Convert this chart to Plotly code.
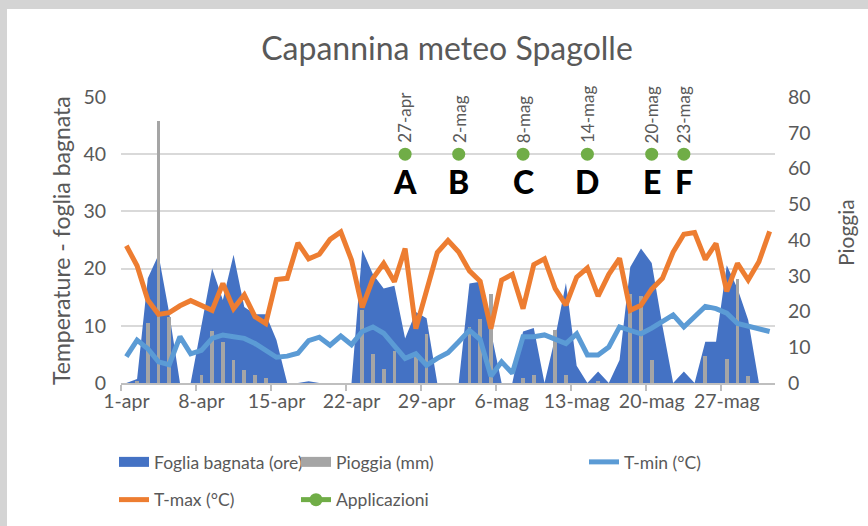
import plotly.graph_objects as go

# ---------------- data ----------------
giorni = [f"{d}-apr" for d in range(1, 31)] + [f"{d}-mag" for d in range(1, 32)]

foglia = [0, 0.7, 18.3, 22.4, 12.2, 0, 0, 10, 20, 14.5,
          22.4, 13.3, 12, 12, 7.5, 0, 0, 0.3, 0, 0,
          0, 0, 23.3, 19, 16.5, 17, 7.8, 12.4, 11.3, 0,
          0, 0, 17.4, 17.7, 9, 0, 0, 9, 9.6, 0,
          8, 17.5, 3, 0, 2, 0, 4, 20.3, 23.5, 21,
          10, 0, 2, 0, 7.2, 7.2, 20.6, 16.5, 11, 0,
          0]

pioggia = [0, 0.5, 16.8, 73.4, 18.5, 0, 0, 2.2, 14.6, 11.5,
           6.4, 3.6, 2.2, 1.5, 0, 0, 0, 0, 0, 0,
           0, 0, 20.5, 8, 4, 9, 0, 7.3, 13.8, 0,
           0, 0, 15.7, 18, 25, 0, 0, 1.3, 2.2, 0,
           14.7, 2.2, 0, 0, 0.3, 0, 0, 25, 24.3, 6.4,
           0, 0, 0, 0, 7.5, 0, 6.6, 29, 1.9, 0,
           0]

tmin = [4.6, 7.5, 6, 3.7, 3.2, 8.1, 5.1, 5.7, 7.8, 8.4,
        8.1, 7.8, 6.9, 5.6, 4.5, 4.7, 5.2, 7.4, 8, 6.6,
        8.2, 6.7, 9, 9.8, 8.7, 6.5, 4.3, 5.1, 3.1, 4.3,
        5.3, 7.2, 9.2, 7.6, 1.2, 3.7, 1.7, 8.1, 8.1, 8.4,
        7.6, 6.9, 8.6, 4.9, 4.9, 6.3, 9.8, 9.2, 8.6, 9.6,
        10.8, 11.9, 9.8, 11.6, 13.4, 13, 12.2, 10.4, 10, 9.6,
        9]

tmax = [24, 20.5, 14.5, 12, 12.3, 13.5, 14.4, 13.5, 12.7, 17.4,
        13, 15.4, 11.6, 10.4, 18.1, 18.3, 24.5, 21.7, 22.5, 25.1,
        26.4, 21.5, 13.2, 18.3, 20.9, 17.7, 23.5, 9.5, 16, 22.8,
        24.9, 22.9, 19.6, 17.8, 9.5, 18, 19, 13, 20.7, 21.7,
        16.5, 13.6, 18.5, 20.1, 15.2, 19, 21.8, 12.7, 13.6, 16.4,
        18.3, 22.9, 26, 26.3, 21.6, 24.4, 16, 20.9, 18, 21.2,
        26.5]

app_date = ["27-apr", "2-mag", "8-mag", "14-mag", "20-mag", "23-mag"]
app_lettere = ["A", "B", "C", "D", "E", "F"]
app_valore = 40

tick_labels = ["1-apr", "8-apr", "15-apr", "22-apr", "29-apr",
               "6-mag", "13-mag", "20-mag", "27-mag"]

# ---------------- derived ----------------
x = list(range(len(giorni)))
tick_x = [giorni.index(t) for t in tick_labels]
app_y = [app_valore if g in app_date else None for g in giorni]

FONT = "Lato"
GRAY_TXT = "#595959"
C_FOGLIA, C_PIOGGIA = "#4472C4", "#A5A5A5"

# plot area in pixels
W, H = 868, 526
ML, MR, MT, MB = 121, 93, 97, 143
PW, PH = W - ML - MR, H - MT - MB


def px_x(p):
    return (p - ML) / PW


def px_y(p):
    return (H - MB - p) / PH


fig = go.Figure()

fig.add_trace(go.Scatter(
    x=x, y=foglia, name="Foglia bagnata (ore)", mode="lines",
    line=dict(width=0, color=C_FOGLIA), fill="tozeroy", fillcolor=C_FOGLIA,
    yaxis="y", showlegend=False))

fig.add_trace(go.Bar(
    x=x, y=pioggia, name="Pioggia (mm)", marker=dict(color=C_PIOGGIA, line=dict(width=0)),
    width=0.35, yaxis="y2", showlegend=False))

# legend-only swatches (wide rectangles like the original legend)
fig.add_trace(go.Scatter(
    x=[None], y=[None], name="Foglia bagnata (ore)", mode="lines",
    line=dict(width=12, color=C_FOGLIA), yaxis="y",
    legend="legend", legendgroup="g1"))
fig.add_trace(go.Scatter(
    x=[None], y=[None], name="Pioggia (mm)", mode="lines",
    line=dict(width=12, color=C_PIOGGIA), yaxis="y2",
    legend="legend2", legendgroup="g2"))

fig.add_trace(go.Scatter(
    x=x, y=tmin, name="T-min (°C)", mode="lines",
    line=dict(width=5, color="#5B9BD5"), yaxis="y3",
    legend="legend3", legendgroup="g3"))

fig.add_trace(go.Scatter(
    x=x, y=tmax, name="T-max (°C)", mode="lines",
    line=dict(width=5, color="#ED7D31"), yaxis="y3",
    legend="legend", legendgroup="g4"))

fig.add_trace(go.Scatter(
    x=x, y=app_y, name="Applicazioni", mode="lines+markers",
    line=dict(width=5, color="#70AD47"), marker=dict(size=13, color="#70AD47"),
    connectgaps=False, yaxis="y3", legend="legend2", legendgroup="g5"))

# rotated date labels above and letters below application points
for d, lettera in zip(app_date, app_lettere):
    fig.add_annotation(
        x=giorni.index(d), y=app_valore, xref="x", yref="y3",
        text=d, textangle=-90, showarrow=False, yanchor="bottom", xanchor="center",
        yshift=9, font=dict(family=FONT, size=17, color=GRAY_TXT))
    fig.add_annotation(
        x=giorni.index(d), y=app_valore, xref="x", yref="y3",
        text=lettera, showarrow=False, yanchor="middle", xanchor="center",
        yshift=-27, font=dict(family=FONT, size=32, color="black", weight=900))

# axis titles
fig.add_annotation(x=px_x(61), y=px_y(241), xref="paper", yref="paper",
                   xanchor="center", yanchor="middle",
                   text="Temperature - foglia bagnata", textangle=-90, showarrow=False,
                   font=dict(family=FONT, size=23, color=GRAY_TXT))
fig.add_annotation(x=px_x(845), y=px_y(233), xref="paper", yref="paper",
                   xanchor="center", yanchor="middle",
                   text="Pioggia", textangle=-90, showarrow=False,
                   font=dict(family=FONT, size=21, color=GRAY_TXT))

# white chart area over gray frame
fig.add_shape(type="rect", xref="paper", yref="paper", layer="below",
              x0=px_x(7), x1=px_x(W + 5), y0=px_y(H + 5), y1=px_y(9),
              fillcolor="white", line=dict(width=0))

leg_common = dict(orientation="v", font=dict(family=FONT, size=17.5, color=GRAY_TXT),
                  bgcolor="rgba(0,0,0,0)", tracegroupgap=12, xanchor="left",
                  yanchor="top", itemwidth=30)

fig.update_layout(
    width=W, height=H,
    margin=dict(l=ML, r=MR, t=MT, b=MB, autoexpand=False),
    paper_bgcolor="#D4D4D4", plot_bgcolor="white",
    title=dict(text="Capannina meteo Spagolle", x=px_x(447), xref="paper",
               xanchor="center", y=1 - 49 / H, yanchor="middle",
               font=dict(family=FONT, size=32, color=GRAY_TXT)),
    bargap=0,
    xaxis=dict(range=[-0.5, len(giorni) - 0.5], tickmode="array", tickvals=tick_x,
               ticktext=tick_labels, ticks="", showgrid=False, zeroline=False,
               showline=True, linecolor="#BFBFBF", linewidth=1.5,
               tickfont=dict(family=FONT, size=19.5, color=GRAY_TXT),
               automargin=False,
               minor=dict(tick0=-0.5, dtick=7, ticks="outside", ticklen=6,
                          tickcolor="#BFBFBF", tickwidth=1.5, showgrid=False)),
    yaxis=dict(range=[0, 50], dtick=10, side="left", showgrid=True,
               gridcolor="#D9D9D9", gridwidth=1.5, zeroline=False, automargin=False,
               tickfont=dict(family=FONT, size=19.5, color=GRAY_TXT),
               ticklabelstandoff=14),
    yaxis2=dict(range=[0, 80], dtick=10, side="right", overlaying="y",
                showgrid=False, zeroline=False, automargin=False,
                tickfont=dict(family=FONT, size=19.5, color=GRAY_TXT),
                ticklabelstandoff=12),
    yaxis3=dict(range=[0, 50], overlaying="y", visible=False),
    legend=dict(x=px_x(114), y=px_y(444), **leg_common),
    legend2=dict(x=px_x(296), y=px_y(444), **leg_common),
    legend3=dict(x=px_x(584), y=px_y(444), **leg_common),
    showlegend=True,
)

fig.write_html("out.html", config={"displayModeBar": False},
               post_script="document.body.style.margin='0px';")
